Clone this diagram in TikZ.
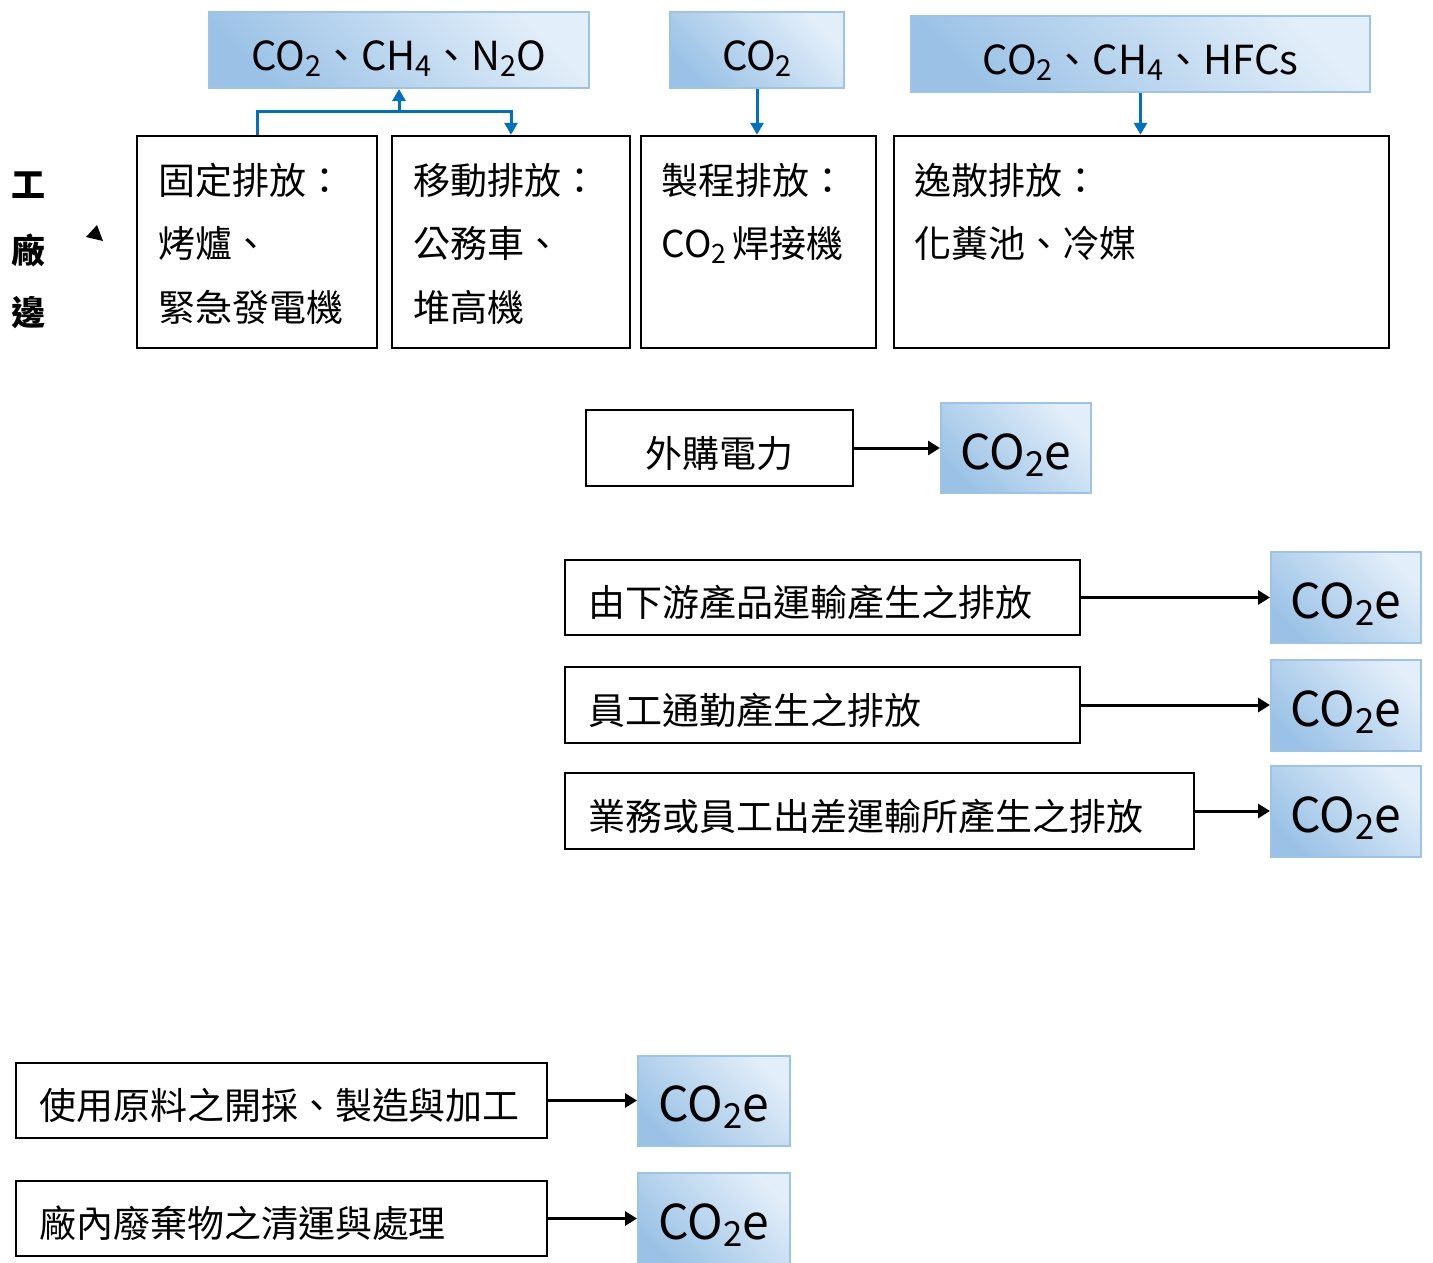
\documentclass[tikz,border=0pt]{standalone}
\usepackage{fontspec}
\setmainfont{Noto Sans CJK TC}
\usepackage{graphicx}
\usetikzlibrary{arrows.meta,calc}
\definecolor{gasdark}{HTML}{9BC2E6}
\definecolor{gaslight}{HTML}{E2EEF9}
\definecolor{gasborder}{HTML}{9DC3E6}
\definecolor{linkblue}{HTML}{0070C0}
\newcommand{\lsub}[1]{\raisebox{-0.28ex}{\scalebox{0.72}{#1}}}
\begin{document}
\begin{tikzpicture}[x=1pt,y=-1pt,
  gasbox/.style={draw=gasborder, line width=2pt, top color=gaslight, bottom color=gasdark, shading angle=-45, inner sep=0pt},
  gastxt/.style={font=\fontsize{40}{40}\selectfont, text height=43pt, text depth=2pt},
  cotxt/.style={font=\fontsize{48}{48}\selectfont, text height=42pt, text depth=0pt},
  topbox/.style={draw=black, line width=2.5pt, inner sep=0pt, minimum height=212pt},
  toptxt/.style={font=\fontsize{37}{63.5}\selectfont, align=left, inner sep=0pt, anchor=north west},
  srcbox/.style={draw=black, line width=2.5pt, inner ysep=0pt, inner xsep=23pt, align=left, font=\fontsize{37}{40}\selectfont, text height=40pt, text depth=2pt},
  sidetxt/.style={font=\fontsize{34}{34}\selectfont\bfseries},
  bluelink/.style={draw=linkblue, line width=3pt, -{Triangle[length=12pt,width=13pt]}},
  blacklink/.style={draw=black, line width=3pt, -{Triangle[length=12pt,width=14pt]}}
]
\clip (0,0) rectangle (1433,1262);
\fill[white] (0,0) rectangle (1433,1262);

% gas boxes
\node[gasbox, minimum width=380pt, minimum height=76pt, gastxt] (G1) at (399,50) {CO\lsub{2}、CH\lsub{4}、N\lsub{2}O};
\node[gasbox, minimum width=174pt, minimum height=76pt, gastxt] (G2) at (757,50) {CO\lsub{2}};
\node[gasbox, minimum width=459pt, minimum height=76pt, gastxt] (G3) at (1140.5,54) {CO\lsub{2}、CH\lsub{4}、HFCs};

% top source boxes
\node[topbox, minimum width=240pt] (A) at (257,242) {};
\node[topbox, minimum width=238pt] (B) at (511,242) {};
\node[topbox, minimum width=235pt] (C) at (758.5,242) {};
\node[topbox, minimum width=495pt] (D) at (1141.5,242) {};
\node[toptxt] (At) at ($(A.north west)+(23,28)$) {固定排放：\\烤爐、\\緊急發電機};
\node[toptxt] (Bt) at ($(B.north west)+(23,28)$) {移動排放：\\公務車、\\堆高機};
\node[toptxt] (Ct) at ($(C.north west)+(22,28)$) {製程排放：\\CO\lsub{2}\hspace{6pt}焊接機};
\node[toptxt] (Dt) at ($(D.north west)+(22,28)$) {逸散排放：\\化糞池、冷媒};

% side label
\node[sidetxt] (k1) at (28,185) {工};
\node[sidetxt] (k2) at (28,250) {廠};
\node[sidetxt] (k3) at (28,313) {邊};
\fill (86,237) -- (97,225) -- (103,241) -- cycle;

% blue connectors
\coordinate (j) at (399,111);
\draw[bluelink] (A.north) -- (A.north |- j) -- (B.north |- j) -- (B.north);
\draw[bluelink] (j) -- (G1.south);
\draw[bluelink] (G2.south) -- (G2.south |- C.north);
\draw[bluelink] (G3.south) -- (G3.south |- D.north);

% purchased electricity
\node[srcbox, inner xsep=0pt, minimum width=267pt, minimum height=76pt, align=center] (P) at (719.5,448) {外購電力};
\node[gasbox, minimum width=150pt, minimum height=90pt, cotxt] (E1) at (1016,448) {CO\lsub{2}e};
\draw[blacklink] (P.east) -- (E1.west);

% indirect
\node[srcbox, text width=469pt, minimum height=75pt] (S1) at (822.5,597.5) {由下游產品運輸產生之排放};
\node[gasbox, minimum width=150pt, minimum height=91pt, cotxt] (E2) at (1346,597.5) {CO\lsub{2}e};
\draw[blacklink] (S1.east) -- (E2.west);

\node[srcbox, text width=469pt, minimum height=76pt] (S2) at (822.5,705) {員工通勤產生之排放};
\node[gasbox, minimum width=150pt, minimum height=91pt, cotxt] (E3) at (1346,705) {CO\lsub{2}e};
\draw[blacklink] (S2.east) -- (E3.west);

\node[srcbox, text width=583pt, minimum height=76pt] (S3) at (879.5,811) {業務或員工出差運輸所產生之排放};
\node[gasbox, minimum width=150pt, minimum height=91pt, cotxt] (E4) at (1346,811) {CO\lsub{2}e};
\draw[blacklink] (S3.east) -- (E4.west);

% bottom
\node[srcbox, text width=485pt, minimum height=75pt] (L1) at (281.5,1100.5) {使用原料之開採、製造與加工};
\node[gasbox, minimum width=152pt, minimum height=90pt, cotxt] (E5) at (714,1100.5) {CO\lsub{2}e};
\draw[blacklink] (L1.east) -- (E5.west);

\node[srcbox, text width=485pt, minimum height=75pt] (L2) at (281.5,1218.5) {廠內廢棄物之清運與處理};
\node[gasbox, minimum width=152pt, minimum height=92pt, cotxt] (E6) at (714,1218.5) {CO\lsub{2}e};
\draw[blacklink] (L2.east) -- (E6.west);
\end{tikzpicture}
\end{document}
